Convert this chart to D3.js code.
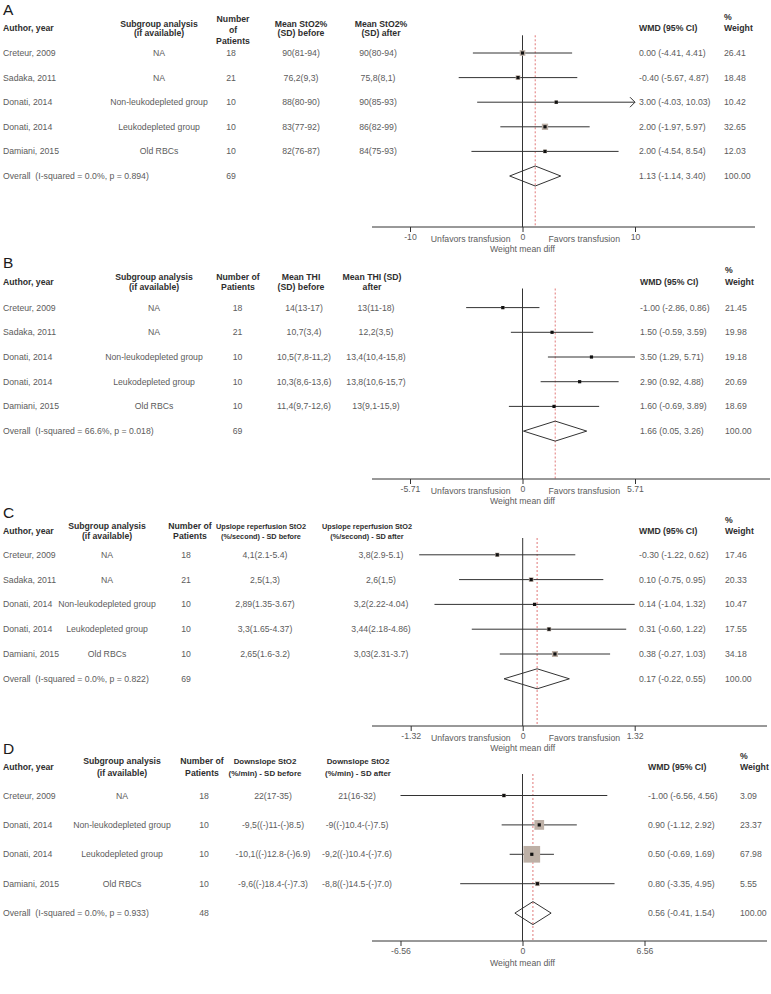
<!DOCTYPE html>
<html><head><meta charset="utf-8">
<script src="https://cdn.jsdelivr.net/npm/d3@7"></script>
<style>
body{margin:0;background:#fff}
svg text{font-family:"Liberation Sans",Arial,Helvetica,sans-serif;white-space:pre}
</style>
</head><body>
<svg id="chart" width="771" height="994"></svg>
<script>
// ---------------- DATA ----------------
// Panel A: StO2%
const authorsA   = ["Creteur, 2009","Sadaka, 2011","Donati, 2014","Donati, 2014","Damiani, 2015"];
const subgroupsA = ["NA","NA","Non-leukodepleted group","Leukodepleted group","Old RBCs"];
const patientsA  = [18,21,10,10,10];
const beforeA    = ["90(81-94)","76,2(9,3)","88(80-90)","83(77-92)","82(76-87)"];
const afterA     = ["90(80-94)","75,8(8,1)","90(85-93)","86(82-99)","84(75-93)"];
const wmdA       = [0.00,-0.40,3.00,2.00,2.00];
const lowA       = [-4.41,-5.67,-4.03,-1.97,-4.54];
const highA      = [4.41,4.87,10.03,5.97,8.54];
const weightA    = [26.41,18.48,10.42,32.65,12.03];
const overallA   = ["Overall  (I-squared = 0.0%, p = 0.894)", 69, 1.13, -1.14, 3.40, 100.00];
const ticksA     = [-10,0,10];
const tickLabelsA= ["-10","0","10"];
const headersA   = [["Author, year"],["Subgroup analysis","(if available)"],["Number","of","Patients"],["Mean StO2%","(SD) before"],["Mean StO2%","(SD) after"],["WMD (95% CI)"],["%","Weight"]];

// Panel B: THI
const authorsB   = ["Creteur, 2009","Sadaka, 2011","Donati, 2014","Donati, 2014","Damiani, 2015"];
const subgroupsB = ["NA","NA","Non-leukodepleted group","Leukodepleted group","Old RBCs"];
const patientsB  = [18,21,10,10,10];
const beforeB    = ["14(13-17)","10,7(3,4)","10,5(7,8-11,2)","10,3(8,6-13,6)","11,4(9,7-12,6)"];
const afterB     = ["13(11-18)","12,2(3,5)","13,4(10,4-15,8)","13,8(10,6-15,7)","13(9,1-15,9)"];
const wmdB       = [-1.00,1.50,3.50,2.90,1.60];
const lowB       = [-2.86,-0.59,1.29,0.92,-0.69];
const highB      = [0.86,3.59,5.71,4.88,3.89];
const weightB    = [21.45,19.98,19.18,20.69,18.69];
const overallB   = ["Overall  (I-squared = 66.6%, p = 0.018)", 69, 1.66, 0.05, 3.26, 100.00];
const ticksB     = [-5.71,0,5.71];
const tickLabelsB= ["-5.71","0","5.71"];
const headersB   = [["Author, year"],["Subgroup analysis","(if available)"],["Number of","Patients"],["Mean THI","(SD) before"],["Mean THI (SD)","after"],["WMD (95% CI)"],["%","Weight"]];

// Panel C: Upslope reperfusion StO2
const authorsC   = ["Creteur, 2009","Sadaka, 2011","Donati, 2014","Donati, 2014","Damiani, 2015"];
const subgroupsC = ["NA","NA","Non-leukodepleted group","Leukodepleted group","Old RBCs"];
const patientsC  = [18,21,10,10,10];
const beforeC    = ["4,1(2.1-5.4)","2,5(1,3)","2,89(1.35-3.67)","3,3(1.65-4.37)","2,65(1.6-3.2)"];
const afterC     = ["3,8(2.9-5.1)","2,6(1,5)","3,2(2.22-4.04)","3,44(2.18-4.86)","3,03(2.31-3.7)"];
const wmdC       = [-0.30,0.10,0.14,0.31,0.38];
const lowC       = [-1.22,-0.75,-1.04,-0.60,-0.27];
const highC      = [0.62,0.95,1.32,1.22,1.03];
const weightC    = [17.46,20.33,10.47,17.55,34.18];
const overallC   = ["Overall  (I-squared = 0.0%, p = 0.822)", 69, 0.17, -0.22, 0.55, 100.00];
const ticksC     = [-1.32,0,1.32];
const tickLabelsC= ["-1.32","0","1.32"];
const headersC   = [["Author, year"],["Subgroup analysis","(if available)"],["Number of","Patients"],["Upslope reperfusion StO2","(%/second) - SD before"],["Upslope reperfusion StO2","(%/second) - SD after"],["WMD (95% CI)"],["%","Weight"]];

// Panel D: Downslope StO2
const authorsD   = ["Creteur, 2009","Donati, 2014","Donati, 2014","Damiani, 2015"];
const subgroupsD = ["NA","Non-leukodepleted group","Leukodepleted group","Old RBCs"];
const patientsD  = [18,10,10,10];
const beforeD    = ["22(17-35)","-9,5((-)11-(-)8.5)","-10,1((-)12.8-(-)6.9)","-9,6((-)18.4-(-)7.3)"];
const afterD     = ["21(16-32)","-9((-)10.4-(-)7.5)","-9,2((-)10.4-(-)7.6)","-8,8((-)14.5-(-)7.0)"];
const wmdD       = [-1.00,0.90,0.50,0.80];
const lowD       = [-6.56,-1.12,-0.69,-3.35];
const highD      = [4.56,2.92,1.69,4.95];
const weightD    = [3.09,23.37,67.98,5.55];
const overallD   = ["Overall  (I-squared = 0.0%, p = 0.933)", 48, 0.56, -0.41, 1.54, 100.00];
const ticksD     = [-6.56,0,6.56];
const tickLabelsD= ["-6.56","0","6.56"];
const headersD   = [["Author, year"],["Subgroup analysis","(if available)"],["Number of","Patients"],["Downslope StO2","(%/min) - SD before"],["Downslope StO2","(%/min) - SD after"],["WMD (95% CI)"],["%","Weight"]];

const panelLetters = ["A","B","C","D"];
const favorLabels  = ["Unfavors transfusion","Favors transfusion"];
const axisTitle    = "Weight mean diff";

// ---------------- LAYOUT (styles/positions) ----------------
const layouts = [
  {head:28.3, lh:9.5, row0:53,    step:24.6, axisY:227, xr:[410,635],   axisX:[372,755], boxK:1.1, hfs:8.7,
   cols:{sub:159,n:231,nh:233,bef:301,befh:301,aft:378,afth:381,wmd:639,wt:724}, dh:10, favor:true},
  {head:281.5,lh:10, row0:307.6, step:24.7, axisY:479, xr:[410,635],   axisX:[372,770], boxK:0.7, hfs:8.7,
   cols:{sub:154,n:237.5,nh:238,bef:304,befh:301,aft:376,afth:372,wmd:640,wt:725}, dh:10, favor:true},
  {head:531,  lh:10, row0:554.8, step:24.8, axisY:726, xr:[410.7,634.7],axisX:[372,767], boxK:1.03, hfs:7.3,
   cols:{sub:107,n:186,nh:190,bef:265,befh:261,aft:381,afth:367,wmd:639,wt:725}, dh:10, favor:true},
  {head:767,  lh:12, row0:795.5, step:29.4, axisY:941, xr:[400.5,644.5],axisX:[372,767], boxK:2.02, hfs:7.9,
   cols:{sub:122,n:204,nh:202,bef:273,befh:265,aft:357,afth:358,wmd:648,wt:740}, dh:11.5, favor:false}
];

const panels = [
  {authors:authorsA,subs:subgroupsA,n:patientsA,bef:beforeA,aft:afterA,wmd:wmdA,low:lowA,high:highA,w:weightA,overall:overallA,ticks:ticksA,tl:tickLabelsA,headers:headersA},
  {authors:authorsB,subs:subgroupsB,n:patientsB,bef:beforeB,aft:afterB,wmd:wmdB,low:lowB,high:highB,w:weightB,overall:overallB,ticks:ticksB,tl:tickLabelsB,headers:headersB},
  {authors:authorsC,subs:subgroupsC,n:patientsC,bef:beforeC,aft:afterC,wmd:wmdC,low:lowC,high:highC,w:weightC,overall:overallC,ticks:ticksC,tl:tickLabelsC,headers:headersC},
  {authors:authorsD,subs:subgroupsD,n:patientsD,bef:beforeD,aft:afterD,wmd:wmdD,low:lowD,high:highD,w:weightD,overall:overallD,ticks:ticksD,tl:tickLabelsD,headers:headersD}
];

// ---------------- DRAW ----------------
const svg = d3.select("#chart");
svg.append("rect").attr("width",771).attr("height",994).attr("fill","#fff");

const FS = 8.7;
const TXT = "#5c5c5c", HDR = "#2e2e2e", LINE = "#333";
const f2 = v => v.toFixed(2);

function txt(g, x, y, s, anchor, bold, color, size){
  return g.append("text").attr("x",x).attr("y",y).attr("dy","0.35em")
    .attr("text-anchor",anchor||"start")
    .attr("font-size",size||FS)
    .attr("font-weight",bold?"bold":"normal")
    .attr("fill",color||(bold?HDR:TXT)).text(s);
}
function multi(g, x, yc, lines, lh, anchor, size){
  const n = lines.length;
  lines.forEach((s,k)=> txt(g, x, yc + (k-(n-1)/2)*lh + (n===3?1.5:0), s, anchor, true, null, size));
}

panels.forEach((P, pi) => {
  const L = layouts[pi];
  const g = svg.append("g");
  const x = d3.scaleLinear().domain([P.ticks[0], P.ticks[2]]).range(L.xr);
  const nRows = P.authors.length;
  const y = d3.scaleLinear().domain([0,1]).range([L.row0, L.row0 + L.step]);
  const C = L.cols;

  // panel letter
  txt(g, 3, L.head - 18.5, panelLetters[pi], "start", false, "#1a1a1a", 15.5);

  // headers
  const H = P.headers;
  multi(g, 3, L.head, H[0], L.lh, "start");
  multi(g, C.sub, L.head, H[1], L.lh, "middle");
  multi(g, C.nh, L.head, H[2], H[2].length===3?11:L.lh, "middle");
  multi(g, C.befh, L.head, H[3], L.lh, "middle", L.hfs);
  multi(g, C.afth, L.head, H[4], L.lh, "middle", L.hfs);
  multi(g, C.wmd, L.head, H[5], L.lh, "start");
  txt(g, C.wt, L.head - 11.5, H[6][0], "start", true);
  txt(g, C.wt, L.head, H[6][1], "start", true);

  // study rows - text
  for(let i=0;i<nRows;i++){
    const yy = y(i);
    txt(g, 3, yy, P.authors[i]);
    txt(g, C.sub, yy, P.subs[i], "middle");
    txt(g, C.n, yy, String(P.n[i]), "middle");
    txt(g, C.bef, yy, P.bef[i], "middle");
    txt(g, C.aft, yy, P.aft[i], "middle");
    txt(g, C.wmd, yy, `${f2(P.wmd[i])} (${f2(P.low[i])}, ${f2(P.high[i])})`);
    txt(g, C.wt, yy, f2(P.w[i]));
  }
  // overall row text
  const oy = y(nRows);
  const O = P.overall;
  txt(g, 3, oy, O[0]);
  txt(g, C.n, oy, String(O[1]), "middle");
  txt(g, C.wmd, oy, `${f2(O[2])} (${f2(O[3])}, ${f2(O[4])})`);
  txt(g, C.wt, oy, f2(O[5]));

  // reference lines
  const topY = L.head + 7;
  g.append("line").attr("x1",x(0)).attr("x2",x(0)).attr("y1",topY).attr("y2",L.axisY)
    .attr("stroke",LINE).attr("stroke-width",1);
  g.append("line").attr("x1",x(O[2])).attr("x2",x(O[2])).attr("y1",topY).attr("y2",L.axisY)
    .attr("stroke","#e07878").attr("stroke-width",1).attr("stroke-dasharray","2,2");

  // axis
  const axis = d3.axisBottom(x).tickValues(P.ticks).tickSize(5).tickSizeOuter(0)
    .tickFormat((d,i)=>P.tl[i]);
  const ag = g.append("g").attr("transform",`translate(0,${L.axisY})`).call(axis);
  ag.select(".domain").remove();
  ag.selectAll(".tick line").attr("stroke",LINE);
  ag.selectAll(".tick text").attr("font-size",FS).attr("fill",TXT)
    .attr("font-family",'"Liberation Sans",Arial,sans-serif').attr("y",7);
  g.append("line").attr("x1",L.axisX[0]).attr("x2",L.axisX[1]).attr("y1",L.axisY).attr("y2",L.axisY)
    .attr("stroke",LINE).attr("stroke-width",1);
  txt(g, x(0), L.axisY + 22, axisTitle, "middle");
  if(L.favor){
    txt(g, x(0) - 12, L.axisY + 11.5, favorLabels[0], "end");
    txt(g, x(0) + 26, L.axisY + 11.5, favorLabels[1], "start");
  }

  // CI lines, boxes, points
  const [dmin, dmax] = x.domain();
  for(let i=0;i<nRows;i++){
    const yy = y(i);
    const lo = Math.max(P.low[i], dmin), hi = Math.min(P.high[i], dmax);
    g.append("line").attr("x1",x(lo)).attr("x2",x(hi)).attr("y1",yy).attr("y2",yy)
      .attr("stroke",LINE).attr("stroke-width",1);
    if(P.high[i] > dmax){
      g.append("path").attr("d",`M${x(dmax)-5},${yy-5}L${x(dmax)},${yy}L${x(dmax)-5},${yy+5}`)
        .attr("fill","none").attr("stroke",LINE).attr("stroke-width",1);
    }
    if(P.low[i] < dmin){
      g.append("path").attr("d",`M${x(dmin)+5},${yy-5}L${x(dmin)},${yy}L${x(dmin)+5},${yy+5}`)
        .attr("fill","none").attr("stroke",LINE).attr("stroke-width",1);
    }
    const s = L.boxK * Math.sqrt(P.w[i]);
    if(s > 3.2){
      g.append("rect").attr("x",x(P.wmd[i])-s/2).attr("y",yy-s/2).attr("width",s).attr("height",s)
        .attr("fill","#bdb0a6");
    }
    g.append("rect").attr("x",x(P.wmd[i])-1.6).attr("y",yy-1.6).attr("width",3.2).attr("height",3.2)
      .attr("fill","#111");
  }

  // overall diamond
  const pts = [[x(O[3]),oy],[x(O[2]),oy-L.dh],[x(O[4]),oy],[x(O[2]),oy+L.dh]];
  g.append("polygon").attr("points",pts.map(p=>p.join(",")).join(" "))
    .attr("fill","none").attr("stroke",LINE).attr("stroke-width",1);
});
</script>
</body></html>
